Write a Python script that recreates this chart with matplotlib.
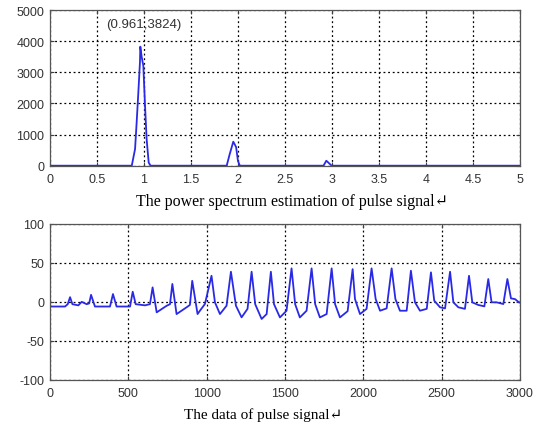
import matplotlib
matplotlib.use("Agg")
import matplotlib.pyplot as plt

# ---- Power spectrum (frequency, power) ----
spec_freq = [0.0, 0.87, 0.905, 0.922, 0.94, 0.957, 0.961, 0.975, 0.993, 1.011, 1.028, 1.05, 1.07,
             1.88, 1.91, 1.95, 1.98, 2.0, 2.02,
             2.91, 2.94, 2.997, 5.0]
spec_power = [0, 0, 536, 1393, 2357, 3320, 3824, 3500, 3211, 1927, 857, 100, 0,
              0, 350, 771, 600, 150, 0,
              0, 160, 0, 0]

# ---- Pulse signal (sample index, amplitude) ----
pulse_n = [0, 96, 113, 128, 143, 181, 202, 234, 250, 262, 287, 383, 402, 425, 511, 528, 547, 606, 638,
           655, 681, 745, 766, 781, 808, 872, 893, 908, 942, 957, 989, 1031, 1053, 1085, 1127,
           1155, 1187, 1223, 1261, 1287, 1310, 1351, 1383, 1410, 1430, 1468, 1510, 1542, 1565,
           1595, 1638, 1670, 1693, 1723, 1766, 1798, 1820, 1851, 1900, 1932, 1947, 1979, 2021,
           2053, 2079, 2107, 2149, 2181, 2205, 2234, 2277, 2304, 2330, 2362, 2405, 2432, 2453,
           2490, 2522, 2554, 2575, 2607, 2649, 2675, 2696, 2734, 2773, 2798, 2819, 2851, 2894,
           2920, 2943, 2968, 2990, 3000]
pulse_v = [-6, -6, -3, 6, -3, -4.5, 0, -3, -2, 9, -6, -6, 10, -6, -6, 13, -3, -4.5, -3,
           18.6, -13.5, -5, -3, 23, -15.7, -7, -4, 27, -15.7, -11.4, -2.8, 33.5, -0.6, -15.7, -5,
           38.7, -5, -19.9, -9, 38.7, -3, -22, -15.7, 38.7, -3, -20, -11.4, 43, -3,
           -20, -11.4, 43, -3, -20, -15.7, 43, -3, -20, -12, 42, 3.6, -15.7, -9,
           43, 3.6, -11.4, -8.4, 43, 3.6, -11.4, -11.4, 40, -0.6, -11.4, -9, 37.9, 1.5,
           -7, -8.4, 38.7, -0.6, -7, -9, 33.5, -0.6, -4, -5.8, 29.3, -0.6, -0.6, -2.8,
           29.3, 4.4, 3.6, 0, -1]

spec_xticks = [0, 0.5, 1, 1.5, 2, 2.5, 3, 3.5, 4, 4.5, 5]
spec_xticklabels = ["0", "0.5", "1", "1.5", "2", "2.5", "3", "3.5", "4", "4.5", "5"]
spec_yticks = [0, 1000, 2000, 3000, 4000, 5000]
pulse_xticks = [0, 500, 1000, 1500, 2000, 2500, 3000]
pulse_yticks = [-100, -50, 0, 50, 100]

caption_top = "The power spectrum estimation of pulse signal\u21b5"
caption_bottom = "The data of pulse signal\u21b5"
peak_label = "(0.961,3824)"

plt.rcParams['font.family'] = ['Liberation Sans', 'DejaVu Sans']
plt.rcParams['axes.unicode_minus'] = False
fig = plt.figure(figsize=(5.36, 4.27), dpi=100)

line_color = '#2a2ae6'
tick_color = '#333333'

def style(ax):
    ax.grid(True, linestyle=(0, (1.5, 2.2)), color='black', linewidth=0.9)
    ax.tick_params(direction='in', length=3, labelsize=9, colors='#404040',
                   top=True, right=True)
    ax.tick_params(axis='x', labelcolor=tick_color, pad=5)
    ax.tick_params(axis='y', labelcolor=tick_color, pad=4)
    for s in ax.spines.values():
        s.set_color('#555555')
        s.set_linewidth(0.9)

ax1 = fig.add_axes([0.0933, 0.6096, 0.8767, 0.3646])
ax1.plot(spec_freq, spec_power, color=line_color, linewidth=1.3)
ax1.set_xlim(0, 5)
ax1.set_ylim(0, 5000)
ax1.set_xticks(spec_xticks)
ax1.set_xticklabels(spec_xticklabels)
ax1.set_yticks(spec_yticks)
style(ax1)
ax1.text(0.6, 4550, peak_label, fontsize=9.5, color='#333333', ha='left', va='center')

ax2 = fig.add_axes([0.0933, 0.1084, 0.8767, 0.3647])
ax2.plot(pulse_n, pulse_v, color=line_color, linewidth=1.3)
ax2.set_xlim(0, 3000)
ax2.set_ylim(-100, 100)
ax2.set_xticks(pulse_xticks)
ax2.set_yticks(pulse_yticks)
style(ax2)

fig.text(0.545, 0.527, caption_top, fontsize=11.5, ha='center', va='center',
         family=['Liberation Serif', 'DejaVu Serif'])
fig.text(0.49, 0.028, caption_bottom, fontsize=11, ha='center', va='center',
         family=['Liberation Serif', 'DejaVu Serif'])

fig.savefig("out.png", dpi=100)
